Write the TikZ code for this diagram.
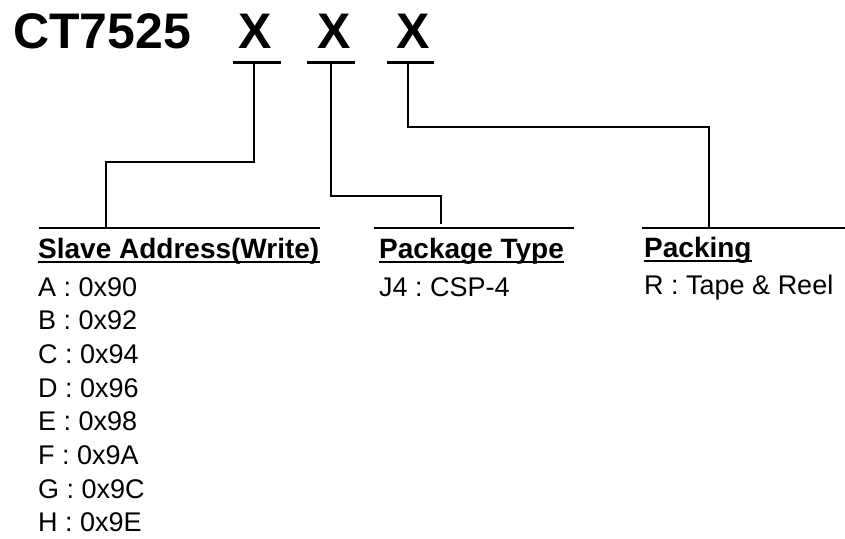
\documentclass[tikz,border=0pt]{standalone}
\usepackage{fontspec}
\setmainfont{Liberation Sans}
\frenchspacing
\begin{document}
\begin{tikzpicture}[x=1pt,y=-1pt,
  lw/.style={line width=2.8pt},
  ttl/.style={inner sep=0pt,anchor=base,font=\fontsize{50}{50}\selectfont\bfseries},
  hdr/.style={inner sep=0pt,anchor=base west,font=\fontsize{28}{28}\selectfont\bfseries},
  itm/.style={inner sep=0pt,anchor=base west,font=\fontsize{27}{27}\selectfont\frenchspacing},
  ul/.style={line width=2pt}]
\useasboundingbox (0,0) rectangle (845,538);
% title
\node[ttl,anchor=base west] (title) at (13,48) {CT7525};
\node[ttl] (xa) at (255,48) {X};
\node[ttl] (xb) at (334,48) {X};
\node[ttl] (xc) at (413,48) {X};
% bars under the X letters
\coordinate (xaL) at (233,62.5); \coordinate (xaR) at (281,62.5);
\coordinate (xbL) at (307,62.5); \coordinate (xbR) at (355,62.5);
\coordinate (xcL) at (387,62.5); \coordinate (xcR) at (434,62.5);
\draw[lw] (xaL) -- (xaR);
\draw[lw] (xbL) -- (xbR);
\draw[lw] (xcL) -- (xcR);
\coordinate (xaB) at (254,62.5);
\coordinate (xbB) at (331,62.5);
\coordinate (xcB) at (408,62.5);
% group lines
\coordinate (g1L) at (39,228); \coordinate (g1R) at (320,228);
\coordinate (g2L) at (374,228); \coordinate (g2R) at (574,228);
\coordinate (g3L) at (642,228); \coordinate (g3R) at (845,228);
\draw[lw] (g1L) -- (g1R);
\draw[lw] (g2L) -- (g2R);
\draw[lw] (g3L) -- (g3R);
\coordinate (g1T) at (106,228);
\coordinate (g2T) at (441,224);
\coordinate (g3T) at (709,228);
% connectors
\draw[lw] (xaB) -- ++(0,99.5) -| (g1T);
\draw[lw] (xbB) -- ++(0,133.5) -| (g2T);
\draw[lw] (xcB) -- ++(0,64.5) -| (g3T);
% headers
\node[hdr] (h1) at (38,258) {Slave Address(Write)};
\node[hdr] (h2) at (379,258) {Package Type};
\node[hdr] (h3) at (644,257) {Packing};
\draw[ul] ([yshift=-3.5pt]h1.base west) -- ([yshift=-3.5pt]h1.base east);
\draw[ul] ([yshift=-3.5pt]h2.base west) -- ([yshift=-3.5pt]h2.base east);
\draw[ul] ([yshift=-3.5pt]h3.base west) -- ([yshift=-3.5pt]h3.base east);
% items
\node[itm] (a1) at (38,296) {A : 0x90};
\node[itm] (a2) at (38,329.7) {B : 0x92};
\node[itm] (a3) at (38,363.4) {C : 0x94};
\node[itm] (a4) at (38,397.1) {D : 0x96};
\node[itm] (a5) at (38,430.8) {E : 0x98};
\node[itm] (a6) at (38,464.5) {F : 0x9A};
\node[itm] (a7) at (38,498.2) {G : 0x9C};
\node[itm] (a8) at (38,531.9) {H : 0x9E};
\node[itm] (p1) at (379,296) {J4 : CSP-4};
\node[itm] (r1) at (644,294) {R : Tape \& Reel};
\end{tikzpicture}
\end{document}
